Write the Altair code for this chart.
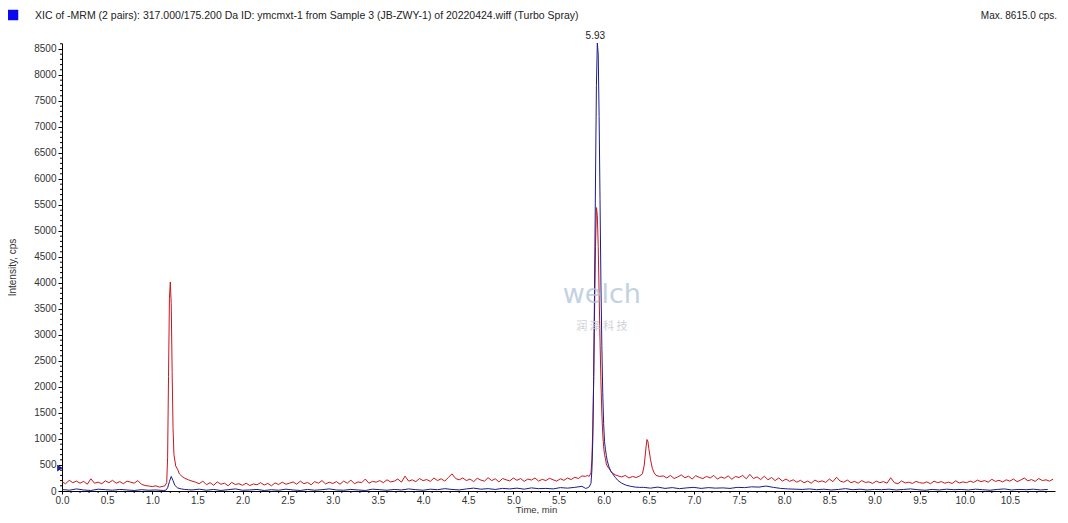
import altair as alt
import pandas as pd

# ---------------- data ----------------
# red trace (second transition)
red_seg1_start, red_seg1_step = 0.00, 0.04
red_seg1 = [175, 140, 205, 160, 190, 150, 185, 130, 235, 150, 170, 140, 195, 160, 205,
            150, 180, 140, 190, 170, 150, 200, 130, 105, 95, 85, 100, 75, 90]
red_p1_t = [1.14, 1.16, 1.17, 1.18, 1.19, 1.20, 1.21, 1.22, 1.23, 1.24, 1.26, 1.28, 1.30, 1.33, 1.36, 1.40, 1.44]
red_p1_v = [100, 160, 650, 2200, 3700, 4020, 3600, 2300, 1200, 700, 480, 420, 330, 280, 245, 215, 190]
red_seg2_start, red_seg2_step = 1.48, 0.04
red_seg2 = [170, 140, 190, 120, 160, 110, 175, 130, 150, 100, 165, 125, 140, 110,
            150, 105, 135, 120, 160, 115, 145, 100, 155, 125, 170, 130,
            150, 175, 130, 190, 140, 165, 120, 180, 150, 200, 135, 170, 145,
            180, 130, 190, 150, 210, 140, 175, 160, 230, 150, 185, 170,
            200, 160, 215, 175, 190, 230, 170, 285, 190, 215, 180, 240, 200,
            220, 185, 250, 200, 235, 190, 260, 330, 240, 215, 250, 200,
            230, 180, 245, 210, 190, 255, 200, 235, 175, 240, 215, 195, 250,
            205, 240, 185, 230, 210, 250, 190, 225, 200, 245, 215, 190,
            235, 205, 250, 220, 265, 240, 290, 280]
red_p2_t = [5.82, 5.84, 5.86, 5.87, 5.88, 5.89, 5.90, 5.91, 5.92, 5.93, 5.94, 5.95, 5.96, 5.97,
            5.98, 5.99, 6.00, 6.01, 6.02, 6.03, 6.04, 6.06, 6.08, 6.10, 6.13, 6.16, 6.20, 6.24,
            6.28, 6.32, 6.36, 6.40, 6.43, 6.45, 6.47, 6.48, 6.49, 6.50, 6.52, 6.54, 6.56, 6.58, 6.62]
red_p2_v = [300, 280, 350, 600, 1200, 2200, 3500, 4700, 5450, 5300, 4700, 3800, 2900, 2100,
            1500, 1100, 850, 700, 620, 520, 480, 430, 380, 340, 310, 290, 270, 300,
            250, 280, 260, 290, 330, 500, 850, 990, 960, 820, 600, 430, 350, 300, 280]
red_seg3_start, red_seg3_step = 6.66, 0.04
red_seg3 = [290, 250, 300, 240, 270, 310, 255, 285, 230, 295, 260, 240, 280,
            250, 300, 230, 270, 245, 290, 225, 280, 260, 300, 235, 320,
            240, 270, 220, 285, 215, 260, 200, 250, 190, 230, 185, 215,
            170, 205, 160, 190, 150, 210, 175, 195, 165, 230, 180, 265,
            190, 170, 210, 160, 185, 150, 200, 165, 175, 145, 190, 160,
            180, 150, 255, 160, 140, 195, 155, 170, 145, 185, 160, 150,
            175, 140, 190, 160, 180, 150, 170, 145, 195, 155, 175, 160,
            190, 165, 210, 180, 200, 170, 225, 185, 205, 175, 215, 190,
            230, 180, 210, 250, 195, 220, 185, 240, 200, 215, 190, 230]

# blue trace (first transition)
blue_seg1_start, blue_seg1_step = 0.00, 0.08
blue_seg1 = [30, 15, 40, 20, 10, 35, 25, 15, 30, 20, 10, 25, 15, 20, 10]
blue_p1_t = [1.15, 1.17, 1.19, 1.21, 1.23, 1.25, 1.28, 1.32, 1.36, 1.40]
blue_p1_v = [15, 60, 180, 280, 200, 110, 60, 40, 30, 25]
blue_seg2_start, blue_seg2_step = 1.44, 0.08
blue_seg2 = [20, 35, 15, 30, 10, 25, 40, 15, 20, 30, 10,
             25, 15, 35, 20, 10, 30, 15, 25, 40, 20, 15,
             30, 20, 10, 35, 25, 15, 30, 20, 40, 25, 15,
             35, 25, 45, 30, 20, 40, 55, 35, 45, 30, 50,
             40, 55, 35, 60, 45, 50, 40, 65, 55, 70, 90]
blue_p2_t = [5.80, 5.82, 5.84, 5.86, 5.87, 5.88, 5.89, 5.90, 5.91, 5.92, 5.93, 5.94, 5.95, 5.96,
             5.97, 5.98, 5.99, 6.00, 6.01, 6.02, 6.03, 6.04, 6.06, 6.08, 6.10, 6.13, 6.16, 6.20,
             6.25, 6.30, 6.35, 6.40]
blue_p2_v = [50, 60, 80, 150, 400, 1000, 2200, 4000, 6000, 7800, 8615, 8400, 7200, 5600,
             4000, 2800, 1900, 1300, 950, 800, 680, 580, 460, 380, 330, 260, 200, 150,
             110, 90, 75, 70]
blue_seg3_start, blue_seg3_step = 6.44, 0.08
blue_seg3 = [70, 55, 75, 50, 65, 45, 60, 70, 50, 65, 55,
             60, 50, 70, 65, 80, 75, 95, 70, 50, 40, 35,
             30, 40, 25, 35, 20, 30, 45, 25, 35, 20, 30,
             25, 35, 20, 30, 40, 25, 15, 30, 20, 35, 25,
             30, 20, 35, 25, 15, 30, 40, 20, 30, 25, 35,
             20, 30]

x_major_ticks = [round(i * 0.5, 1) for i in range(22)]
x_minor_ticks = [round(i * 0.1, 1) for i in range(110) if i % 5 != 0]
y_major_ticks = [i * 500 for i in range(18)]
y_minor_ticks = [i * 100 for i in range(87) if i % 5 != 0]

peak_rt = 5.93
peak_max = 8615
threshold_marker = 440

header_text = "XIC of -MRM (2 pairs): 317.000/175.200 Da ID: ymcmxt-1 from Sample 3 (JB-ZWY-1) of 20220424.wiff (Turbo Spray)"
max_text = "Max. 8615.0 cps."


def seg(start, step, vals):
    return [round(start + i * step, 3) for i in range(len(vals))], list(vals)


def build(parts):
    ts, vs = [], []
    for t, v in parts:
        ts += list(t)
        vs += list(v)
    return ts, vs


rt, rv = build([seg(red_seg1_start, red_seg1_step, red_seg1), (red_p1_t, red_p1_v),
                seg(red_seg2_start, red_seg2_step, red_seg2), (red_p2_t, red_p2_v),
                seg(red_seg3_start, red_seg3_step, red_seg3)])
bt, bv = build([seg(blue_seg1_start, blue_seg1_step, blue_seg1), (blue_p1_t, blue_p1_v),
                seg(blue_seg2_start, blue_seg2_step, blue_seg2), (blue_p2_t, blue_p2_v),
                seg(blue_seg3_start, blue_seg3_step, blue_seg3)])

df = pd.DataFrame({
    "t": rt + bt,
    "v": rv + bv,
    "series": ["red"] * len(rt) + ["blue"] * len(bt),
    "order": list(range(len(rt))) + list(range(len(bt))),
})

RED = "#C8161D"
BLUE = "#1C1C8C"
FONT = "Liberation Sans"
H = 448

xscale = alt.Scale(domain=[0, 11.0], nice=False, zero=False)
yscale = alt.Scale(domain=[0, 8615], nice=False)

x_axis = alt.Axis(
    values=x_major_ticks, format=".1f", tickSize=3,
    labelOverlap=False, labelFlush=False, grid=False,
    domainColor="black", tickColor="black", labelColor="#333333",
    labelFont=FONT, labelFontSize=10, labelPadding=1,
    title="Time, min", titleFont=FONT, titleFontSize=9.5, titleFontWeight="normal",
    titleColor="#333333", titleX=474, titleY=23, titleBaseline="bottom", titleAlign="center",
)
y_axis = alt.Axis(
    values=y_major_ticks, format="d", tickSize=4,
    labelOverlap=False, labelFlush=False, grid=False,
    domainColor="black", tickColor="black", labelColor="#333333",
    labelFont=FONT, labelFontSize=10, labelPadding=2,
    title="Intensity, cps", titleFont=FONT, titleFontSize=10, titleFontWeight="normal",
    titleColor="#333333", titleX=-50, titleY=H / 2, titleBaseline="middle", titleAlign="center",
)


def X():
    return alt.X("t:Q", scale=xscale, axis=x_axis)


def Y():
    return alt.Y("v:Q", scale=yscale, axis=y_axis)


lines = alt.Chart(df).mark_line(strokeWidth=1, interpolate="linear").encode(
    x=X(), y=Y(),
    color=alt.Color("series:N", scale=alt.Scale(domain=["red", "blue"], range=[RED, BLUE]), legend=None),
    order="order:Q",
    detail="series:N",
)

# minor ticks (positions through the scales, length in pixels)
xm_df = pd.DataFrame({"t": x_minor_ticks})
x_minor = alt.Chart(xm_df).mark_rule(color="black", strokeWidth=1).encode(
    x=X(), y=alt.value(H), y2=alt.value(H + 2))
ym_df = pd.DataFrame({"v": y_minor_ticks})
y_minor = alt.Chart(ym_df).mark_rule(color="black", strokeWidth=1).encode(
    y=Y(), x=alt.value(-2), x2=alt.value(0))

peak_df = pd.DataFrame({"t": [peak_rt], "v": [peak_max], "label": [f"{peak_rt:.2f}"]})
peak_label = alt.Chart(peak_df).mark_text(font=FONT, fontSize=10, color="#222222", dy=-7, dx=-2).encode(
    x=X(), y=Y(), text="label:N")

marker_df = pd.DataFrame({"t": [0.0], "v": [threshold_marker]})
marker = alt.Chart(marker_df).mark_point(shape="triangle-right", filled=True, color=BLUE, size=45,
                                         opacity=1, xOffset=-2).encode(x=X(), y=Y())

wm_df = pd.DataFrame({"t": [5.98, 5.98], "v": [3760, 3150], "txt": ["welch", "润  泽  科  技"]})
watermark_main = alt.Chart(wm_df.iloc[[0]]).mark_text(font="DejaVu Sans", fontSize=27, color="#AFC3DA",
                                                      opacity=0.75).encode(x=X(), y=Y(), text="txt:N")
watermark_cn = alt.Chart(wm_df.iloc[[1]]).mark_text(font="Noto Sans CJK SC", fontSize=11, color="#C8CCD2",
                                                    opacity=0.9).encode(x=X(), y=Y(), text="txt:N")

hdr_df = pd.DataFrame({"txt": [header_text]})
header = alt.Chart(hdr_df).mark_text(font=FONT, fontSize=10.5, color="#222222", align="left",
                                     baseline="middle").encode(
    x=alt.value(-27), y=alt.value(-27), text="txt:N")
square = alt.Chart(hdr_df).mark_square(color="#0A0AF0", size=110, opacity=1).encode(
    x=alt.value(-49), y=alt.value(-28))
max_df = pd.DataFrame({"txt": [max_text]})
max_lbl = alt.Chart(max_df).mark_text(font=FONT, fontSize=10, color="#222222", align="right",
                                      baseline="middle").encode(
    x=alt.value(995), y=alt.value(-27), text="txt:N")

chart = alt.layer(lines, x_minor, y_minor, peak_label, marker, watermark_main, watermark_cn,
                  header, square, max_lbl).properties(
    width=993, height=H,
    autosize=alt.AutoSizeParams(type="none"),
    padding={"left": 54, "top": 35, "right": 4, "bottom": 23},
    background="white",
).configure_view(stroke=None).configure_axis(labelOverlap=False)

chart.save("out.html", embed_options={"renderer": "svg", "actions": False})
